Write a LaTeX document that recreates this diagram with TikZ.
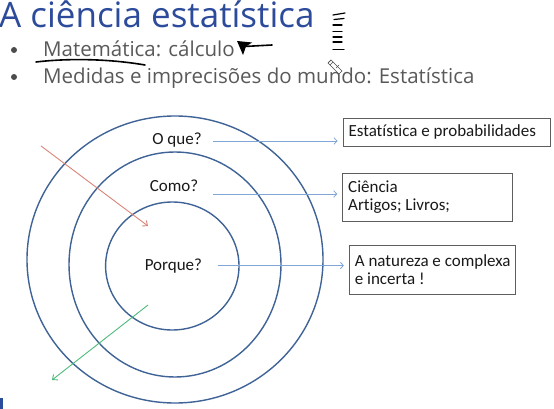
\documentclass[tikz,border=0pt]{standalone}
\usepackage{fontspec}
\setmainfont{Carlito}[Ligatures=NoCommon]
\newfontfamily\slidefont{Open Sans}
\usetikzlibrary{arrows.meta}
\definecolor{ringc}{HTML}{3F6396}
\definecolor{connc}{HTML}{7FA6D6}
\definecolor{redc}{HTML}{DA8478}
\definecolor{greenc}{HTML}{4DBB7A}
\definecolor{titlec}{HTML}{2D4B9B}
\definecolor{bulletc}{HTML}{595959}
\definecolor{boxc}{HTML}{5E5E5E}
\tikzset{
  ring/.style={draw=ringc, line width=1.4pt},
  qlabel/.style={anchor=base, inner sep=0pt, font=\fontsize{17}{19}\selectfont, text=black!90},
  infobox/.style={draw=boxc, line width=0.9pt, align=flush left, inner xsep=5.5pt, inner ysep=0pt,
     font=\fontsize{17}{18.8}\selectfont, text=black!90},
  conn/.style={draw=connc, line width=0.8pt, -{Straight Barb[length=3pt,width=6.5pt]}, shorten >=5pt},
  slash/.style={line width=0.9pt, -{Straight Barb[length=4pt,width=7pt]}},
  ink/.style={draw=black, line width=1.6pt, line cap=round},
  bul/.style={anchor=base west, inner sep=0pt, text=bulletc, font=\slidefont\fontsize{20.5}{24}\selectfont}
}
\begin{document}
\begin{tikzpicture}[x=1pt,y=-1pt]
\useasboundingbox (0,0) rectangle (554,409);
% title and bullets
\node[anchor=base west, inner sep=0pt, text=titlec, font=\slidefont\fontsize{35}{40}\selectfont] (title) at (-1,28) {A ciência estatística};
\node[circle, fill=bulletc!85!black, inner sep=0pt, minimum size=6pt] (dot1) at (14,50) {};
\node[circle, fill=bulletc!85!black, inner sep=0pt, minimum size=6pt] (dot2) at (14,77) {};
\node[bul] (b1) at (43,57) {Matemática: cálculo};
\node[bul] (b2) at (43,84) {Medidas e imprecisões do mundo: Estatística};
% handwritten ink
\draw[ink] (36,62) .. controls (70,58) and (110,59) .. (145,65);
\fill[black] (237,41) -- (252,42.5) -- (246,46.5) -- (243,55) -- cycle;
\draw[ink] (244,46.5) -- (272,45);
\foreach \ya/\yb/\xa/\xb in {15/13/333/345, 19.5/18.5/334/344, 25/25/333/342, 31.5/31.5/333/342, 37/37/333/342, 42/42/333/342, 49.5/49.5/333/344}
  \draw[black, line width=1.2pt, line cap=round] (\xa,\ya) -- (\xb,\yb);
% pencil cursor
\draw[black!70, fill=white, line width=0.6pt] (328,63) -- (331,60) -- (342,71) -- (339,74) -- cycle;
\draw[black!70, line width=0.6pt] (331,60) -- (328,63) (330,65) -- (333,62) (336,68) -- (339,65);
% rings
\draw[ring] (175,259.5) ellipse [x radius=148pt, y radius=143.5pt];
\draw[ring] (175,264.5) ellipse [x radius=106pt, y radius=112.5pt];
\draw[ring] (172.3,266) ellipse [x radius=66.7pt, y radius=64pt];
% labels
\node[qlabel] (oque) at (177,145) {O que?};
\node[qlabel] (como) at (174,191.5) {Como?};
\node[qlabel] (porque) at (173.4,270.5) {Porque?};
% boxes
\node[infobox, minimum width=207pt, minimum height=28pt, text width=196pt] (box1) at (446.5,132) {\mbox{Estatística e probabilidades}};
\node[infobox, minimum width=170pt, minimum height=48.3pt, text width=159pt] (box2) at (427.7,197.2) {\mbox{Ciência}\\\mbox{Artigos; Livros;}};
\node[infobox, minimum width=165.7pt, minimum height=48.7pt, text width=154.7pt] (box3) at (432.2,269.7) {\mbox{A natureza e complexa}\\\mbox{e incerta !}};
% connectors
\coordinate (s1) at (213,141);
\coordinate (s2) at (213,194);
\coordinate (s3) at (218,265.5);
\draw[conn] (s1) -- (s1 -| box1.west);
\draw[conn] (s2) -- (s2 -| box2.west);
\draw[conn] (s3) -- (s3 -| box3.west);
% red and green arrows
\coordinate (r1) at (41,146);
\coordinate (r2) at (148,226);
\coordinate (g1) at (148,305);
\coordinate (g2) at (52,380);
\draw[slash, draw=redc] (r1) -- (r2);
\draw[slash, draw=greenc] (g1) -- (g2);
% slide edge mark
\fill[titlec] (0,398) rectangle (3,409);
\end{tikzpicture}
\end{document}
